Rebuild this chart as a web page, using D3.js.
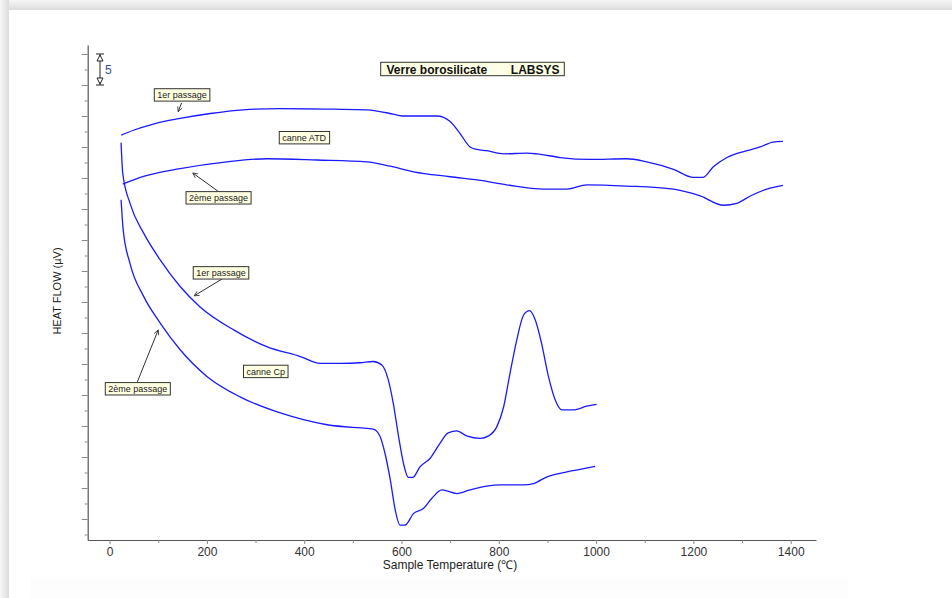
<!DOCTYPE html>
<html>
<head>
<meta charset="utf-8">
<script src="https://cdn.jsdelivr.net/npm/d3@7"></script>
<style>
  body { margin: 0; background: #fff; overflow: hidden; }
  svg { display: block; font-family: "Liberation Sans", Arial, sans-serif; }
</style>
</head>
<body>
<svg width="952" height="598"></svg>
<script>
// temperatures (°C) and heat flow (µV, arbitrary offset)
var atd1T  = [24, 49, 90, 145, 207, 275, 350, 460, 529, 583, 601, 673, 700, 720, 741, 755, 775, 810, 858, 878, 926, 988, 1063, 1104, 1159, 1200, 1220, 1241, 1269, 1310, 1337, 1364, 1384];
var atd1HF = [61.9, 62.7, 63.7, 64.6, 65.4, 66.0, 66.2, 66.1, 66.0, 65.3, 65.0, 65.0, 64.1, 62.2, 60.0, 59.6, 59.4, 58.9, 59.0, 58.9, 58.3, 58.0, 58.1, 57.6, 56.4, 55.1, 55.1, 56.8, 58.3, 59.4, 60.0, 60.8, 60.9];

var atd2T  = [27, 63, 145, 241, 323, 426, 529, 577, 625, 700, 762, 816, 892, 940, 981, 1063, 1159, 1214, 1262, 1289, 1317, 1351, 1384];
var atd2HF = [54.0, 55.1, 56.5, 57.6, 58.1, 57.9, 57.6, 56.9, 56.0, 55.2, 54.6, 53.9, 53.2, 53.2, 53.9, 53.7, 53.2, 52.1, 50.6, 50.9, 52.1, 53.2, 53.8];

var cp1T  = [23.6, 27, 42, 70, 104, 145, 186, 255, 323, 392, 433, 475, 515, 542, 560, 573, 583, 594, 604, 614, 623, 638, 659, 679, 696, 714, 734, 762, 779, 796, 810, 823, 837, 851, 863, 875, 888, 902, 916, 930, 953, 981, 1001];
var cp1HF = [60.7, 55.8, 50.9, 46.1, 41.8, 37.5, 34.2, 30.5, 27.8, 26.2, 25.1, 25.1, 25.2, 25.4, 24.8, 22.4, 18.7, 13.3, 9.0, 6.7, 6.7, 8.4, 9.8, 12.2, 13.9, 14.2, 13.4, 13.0, 13.4, 14.9, 18.1, 23.5, 28.9, 32.9, 33.6, 32.1, 28.3, 23.0, 19.2, 17.6, 17.6, 18.2, 18.5];

var cp2T  = [23.6, 28, 42, 70, 104, 145, 200, 268, 351, 447, 529, 542, 556, 566, 577, 587, 597, 607, 625, 645, 662, 683, 714, 741, 775, 803, 851, 871, 899, 940, 967, 998];
var cp2HF = [51.5, 46.6, 41.2, 35.9, 31.6, 27.3, 23.0, 19.7, 17.1, 15.2, 14.6, 14.5, 13.3, 10.6, 6.3, 1.5, -1.0, -1.0, 0.9, 1.7, 3.3, 4.7, 4.1, 4.7, 5.3, 5.5, 5.5, 5.7, 6.8, 7.6, 8.0, 8.5];

var xTicks = [0, 200, 400, 600, 800, 1000, 1200, 1400];
var xMinor = [100, 300, 500, 700, 900, 1100, 1300];
var yTicks = d3.range(0, 76, 5);
var yMinor = d3.range(-2.5, 75, 5);

var titleText = "Verre borosilicate";
var titleText2 = "LABSYS";
var xLabel = "Sample Temperature (\u2103)";
var yLabel = "HEAT FLOW (\u00b5V)";

// annotation boxes: label, box centre, arrow from / to (all in data units)
var notes = [
  {text: "1er passage",  t: 149, hf: 68.4, arrow: [[148, 67.1], [141, 65.7]]},
  {text: "canne ATD",    t: 400, hf: 61.5},
  {text: "2ème passage", t: 224, hf: 51.8, arrow: [[224, 52.8], [171, 55.8]]},
  {text: "1er passage",  t: 229, hf: 39.7, arrow: [[231, 38.7], [174, 36.0]]},
  {text: "canne Cp",     t: 321, hf: 23.8},
  {text: "2ème passage", t: 58,  hf: 21.0, arrow: [[57, 22.1], [100, 30.5]]}
];

var svg = d3.select("svg");
var defs = svg.append("defs");

// soft frame edge (top and left)
var gt = defs.append("linearGradient").attr("id", "gTop").attr("x1", 0).attr("y1", 0).attr("x2", 0).attr("y2", 1);
gt.append("stop").attr("offset", "0%").attr("stop-color", "#f6f6f6");
gt.append("stop").attr("offset", "100%").attr("stop-color", "#dcdcdc");
var gl = defs.append("linearGradient").attr("id", "gLeft").attr("x1", 0).attr("y1", 0).attr("x2", 1).attr("y2", 0);
gl.append("stop").attr("offset", "0%").attr("stop-color", "#f6f6f6");
gl.append("stop").attr("offset", "100%").attr("stop-color", "#dcdcdc");
svg.append("rect").attr("width", 952).attr("height", 10).attr("fill", "url(#gTop)");
svg.append("rect").attr("y", 0).attr("width", 9).attr("height", 598).attr("fill", "url(#gLeft)");
svg.append("rect").attr("x", 30).attr("y", 577).attr("width", 818).attr("height", 21).attr("fill", "#fdfdfd");

defs.append("marker").attr("id", "arr")
    .attr("viewBox", "-8 -5 10 10").attr("refX", 0).attr("refY", 0)
    .attr("markerWidth", 8).attr("markerHeight", 8)
    .attr("markerUnits", "userSpaceOnUse").attr("orient", "auto")
  .append("path").attr("d", "M-6,-3L0,0L-6,3").attr("fill", "none").attr("stroke", "#333").attr("stroke-width", 1);

var x = d3.scaleLinear().domain([-45, 1452]).range([87.7, 816]);
var y = d3.scaleLinear().domain([-3.39, 76.45]).range([540, 45]);

// axes
var xAxis = svg.append("g").attr("transform", "translate(0,540)")
  .call(d3.axisBottom(x).tickValues(xTicks).tickSize(4).tickSizeOuter(0).tickPadding(3).tickFormat(d3.format("d")));
svg.append("g").attr("transform", "translate(0,540)")
  .call(d3.axisBottom(x).tickValues(xMinor).tickSize(3).tickFormat("").tickSizeOuter(0))
  .select(".domain").remove();
xAxis.selectAll("text").attr("font-size", 12).attr("fill", "#333").attr("font-family", "Liberation Sans, Arial, sans-serif");

svg.append("g").attr("transform", "translate(87.7,0)")
  .call(d3.axisLeft(y).tickValues(yTicks).tickSize(6).tickFormat("").tickSizeOuter(0));
svg.append("g").attr("transform", "translate(87.7,0)")
  .call(d3.axisLeft(y).tickValues(yMinor).tickSize(3).tickFormat("").tickSizeOuter(0))
  .select(".domain").remove();

svg.selectAll(".domain").attr("stroke", "#555").attr("stroke-width", 1.2);
svg.selectAll(".tick line").attr("stroke", "#888");

// axis labels
svg.append("text").attr("x", 450).attr("y", 569).attr("text-anchor", "middle")
   .attr("font-size", 12).attr("fill", "#222").text(xLabel);
svg.append("text").attr("transform", "translate(61,291) rotate(-90)").attr("text-anchor", "middle")
   .attr("font-size", 11).attr("fill", "#222").text(yLabel);

// scale bar (5 µV)
var sbx = 100;
var sb = svg.append("g").attr("stroke", "#222").attr("fill", "none").attr("stroke-width", 1);
sb.append("line").attr("x1", sbx).attr("x2", sbx).attr("y1", y(75)).attr("y2", y(70));
sb.append("line").attr("x1", sbx - 4).attr("x2", sbx + 4).attr("y1", y(75)).attr("y2", y(75));
sb.append("line").attr("x1", sbx - 4).attr("x2", sbx + 4).attr("y1", y(70)).attr("y2", y(70));
sb.append("path").attr("fill", "#fff").attr("d", "M" + (sbx - 3) + "," + (y(75) + 7) + "L" + sbx + "," + (y(75) + 1) + "L" + (sbx + 3) + "," + (y(75) + 7) + "Z");
sb.append("path").attr("fill", "#fff").attr("d", "M" + (sbx - 3) + "," + (y(70) - 7) + "L" + sbx + "," + (y(70) - 1) + "L" + (sbx + 3) + "," + (y(70) - 7) + "Z");
svg.append("text").attr("x", sbx + 5).attr("y", y(72.5) + 4.5).attr("font-size", 12).attr("fill", "#34508a").text("5");

// curves
var line = d3.line().x(function(d){ return x(d[0]); }).y(function(d){ return y(d[1]); }).curve(d3.curveMonotoneX);
[[atd1T, atd1HF], [atd2T, atd2HF], [cp1T, cp1HF], [cp2T, cp2HF]].forEach(function(s){
  svg.append("path").datum(d3.zip(s[0], s[1]))
     .attr("d", line).attr("fill", "none").attr("stroke", "#1a1aff").attr("stroke-width", 1.3);
});

// title
var tg = svg.append("g");
tg.append("rect").attr("x", 380.7).attr("y", 62.3).attr("width", 183.6).attr("height", 13.4)
   .attr("fill", "#ffffe6").attr("stroke", "#333").attr("stroke-width", 1);
tg.append("text").attr("x", 386.5).attr("y", 73.5).attr("font-size", 12).attr("font-weight", "bold").attr("fill", "#111").text(titleText);
tg.append("text").attr("x", 559.5).attr("y", 73.5).attr("text-anchor", "end").attr("font-size", 12).attr("font-weight", "bold").attr("fill", "#111").text(titleText2);

// annotations
notes.forEach(function(n){
  if (n.arrow) {
    svg.append("line")
       .attr("x1", x(n.arrow[0][0])).attr("y1", y(n.arrow[0][1]))
       .attr("x2", x(n.arrow[1][0])).attr("y2", y(n.arrow[1][1]))
       .attr("stroke", "#333").attr("stroke-width", 1).attr("marker-end", "url(#arr)");
  }
  var g = svg.append("g");
  var r = g.append("rect");
  var t = g.append("text").attr("x", x(n.t)).attr("y", y(n.hf) + 3.2).attr("text-anchor", "middle")
           .attr("font-size", 9).attr("fill", "#222").text(n.text);
  var bb = t.node().getBBox();
  r.attr("x", bb.x - 3).attr("y", y(n.hf) - 6.2).attr("width", bb.width + 6).attr("height", 12.4)
   .attr("fill", "#ffffe1").attr("stroke", "#333").attr("stroke-width", 1);
});
</script>
</body>
</html>
